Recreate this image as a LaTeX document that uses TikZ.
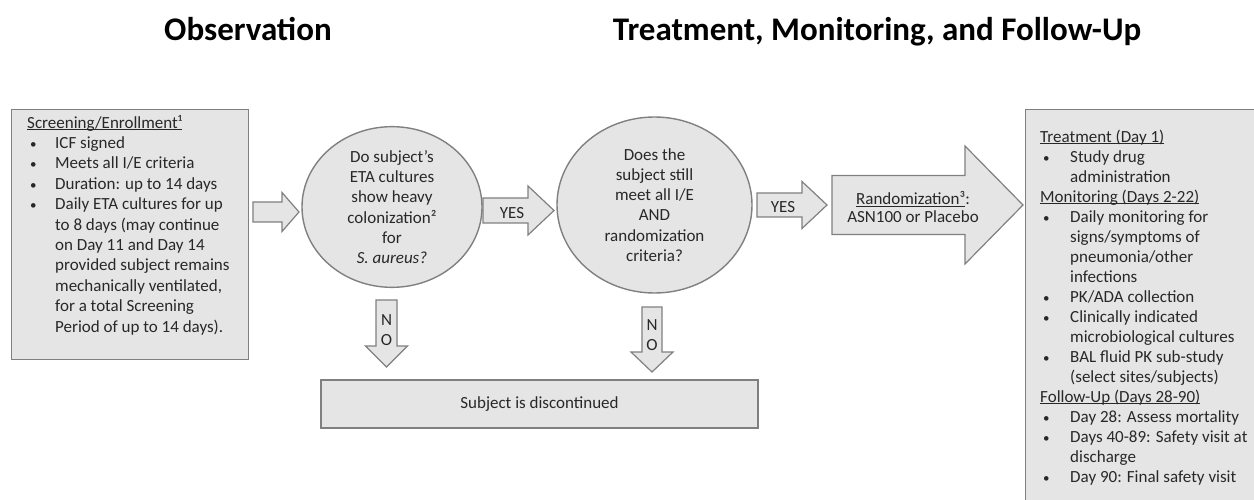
\documentclass[tikz,border=0pt]{standalone}
\usepackage{fontspec}
\setmainfont{Carlito}
\usetikzlibrary{shapes.geometric}
\definecolor{boxfill}{RGB}{229,229,229}
\definecolor{edge}{RGB}{128,128,128}
\definecolor{txt}{RGB}{40,40,40}
\newsavebox\ulbox
\newcommand\ulx[1]{\sbox\ulbox{#1}\rlap{\rule[-2.2pt]{\wd\ulbox}{0.8pt}}\usebox\ulbox}
\newcommand\dotb{{\fontsize{13}{13}\selectfont •}}
\newcommand\bulL{\hspace*{3pt}\makebox[25pt][l]{\dotb}}
\newcommand\contL{\hspace*{28pt}}
\newcommand\bulR{\hspace*{3pt}\makebox[27pt][l]{\dotb}}
\newcommand\contR{\hspace*{30pt}}
% horizontal block arrow: x1,x2,yc,shaft half,head half,head length
\newcommand\harrow[6]{\draw[barrow] (#1,{#3-#4}) -- ({#2-#6},{#3-#4}) -- ({#2-#6},{#3-#5}) -- (#2,#3) -- ({#2-#6},{#3+#5}) -- ({#2-#6},{#3+#4}) -- (#1,{#3+#4}) -- cycle;}
% vertical block arrow: xc,y1,y2,shaft half,head half,head length
\newcommand\varrow[6]{\draw[barrow] ({#1-#4},#2) -- ({#1+#4},#2) -- ({#1+#4},{#3-#6}) -- ({#1+#5},{#3-#6}) -- (#1,#3) -- ({#1-#5},{#3-#6}) -- ({#1-#4},{#3-#6}) -- cycle;}
\begin{document}
\begin{tikzpicture}[x=1pt,y=-1pt,
  every node/.style={text=txt,inner sep=0pt},
  font=\fontsize{17}{20.3}\selectfont,
  boxs/.style={draw=edge, fill=boxfill, line width=1.4pt},
  barrow/.style={draw=edge, fill=boxfill, line width=1.2pt, line join=miter},
  ttl/.style={font=\fontsize{33}{40}\selectfont\bfseries, text=black}]
\useasboundingbox (0,0) rectangle (1254,500);
\fill[white] (0,0) rectangle (1254,500);

% titles
\node[ttl, anchor=base] (t1) at (248,41) {Observation};
\node[ttl, anchor=base] (t2) at (877,41) {Treatment, Monitoring, and Follow-Up};

% screening box
\node[boxs, anchor=north west, minimum width=237, minimum height=250] (scr) at (11,109) {};
\node[anchor=base west, align=left, font=\fontsize{17}{20.4}\selectfont] (scrt) at (27,332)
 {\ulx{Screening/Enrollment¹}\\
  \bulL ICF signed\\
  \bulL Meets all I/E criteria\\
  \bulL Duration: up to 14 days\\
  \bulL Daily ETA cultures for up\\
  \contL to 8 days (may continue\\
  \contL on Day 11 and Day 14\\
  \contL provided subject remains\\
  \contL mechanically ventilated,\\
  \contL for a total Screening\\
  \contL Period of up to 14 days).};

% decision ellipses
\node[ellipse, boxs, minimum width=180, minimum height=150, align=center] (c1) at (392,207)
 {Do subject’s\\ETA cultures\\show heavy\\colonization²\\for\\\textit{S. aureus?}};
\node[ellipse, boxs, minimum width=195, minimum height=176, align=center] (c2) at (654.5,205)
 {\raisebox{0pt}[0pt][0pt]{}Does the\\subject still\\meet all I/E\\AND\\randomization\\criteria?};

% discontinued box
\node[boxs, minimum width=437, minimum height=48] (disc) at (539.5,404) {Subject is discontinued};

% treatment box
\node[boxs, anchor=north west, minimum width=245, minimum height=410] (trt) at (1025,109) {};
\node[anchor=base west, align=left, font=\fontsize{17}{20}\selectfont] (trtt) at (1040,482)
 {\ulx{Treatment (Day 1)}\\
  \bulR Study drug\\
  \contR administration\\
  \ulx{Monitoring (Days 2-22)}\\
  \bulR Daily monitoring for\\
  \contR signs/symptoms of\\
  \contR pneumonia/other\\
  \contR infections\\
  \bulR PK/ADA collection\\
  \bulR Clinically indicated\\
  \contR microbiological cultures\\
  \bulR BAL fluid PK sub-study\\
  \contR (select sites/subjects)\\
  \ulx{Follow-Up (Days 28-90)}\\
  \bulR Day 28: Assess mortality\\
  \bulR Days 40-89: Safety visit at\\
  \contR discharge\\
  \bulR Day 90: Final safety visit};

% block arrows
\harrow{253}{299}{212}{10}{19.5}{17}
\harrow{483}{554}{210.5}{12.5}{24.5}{26}
\harrow{757}{827}{205}{12}{23.5}{25}
\harrow{832}{1023}{205}{29.5}{59}{58}
\varrow{386.5}{300}{367}{10.5}{21}{21}
\varrow{652}{307}{372}{10}{21}{20}

% arrow labels
\node (yes1) at (512,213) {YES};
\node (yes2) at (783,207) {YES};
\node[align=center, font=\fontsize{17}{18}\selectfont] (rand) at (913,207) {\ulx{Randomization³}:\\ASN100 or Placebo};
\node[align=center] (no1) at (386.5,330) {N\\O};
\node[align=center] (no2) at (652,335) {N\\O};
\end{tikzpicture}
\end{document}
